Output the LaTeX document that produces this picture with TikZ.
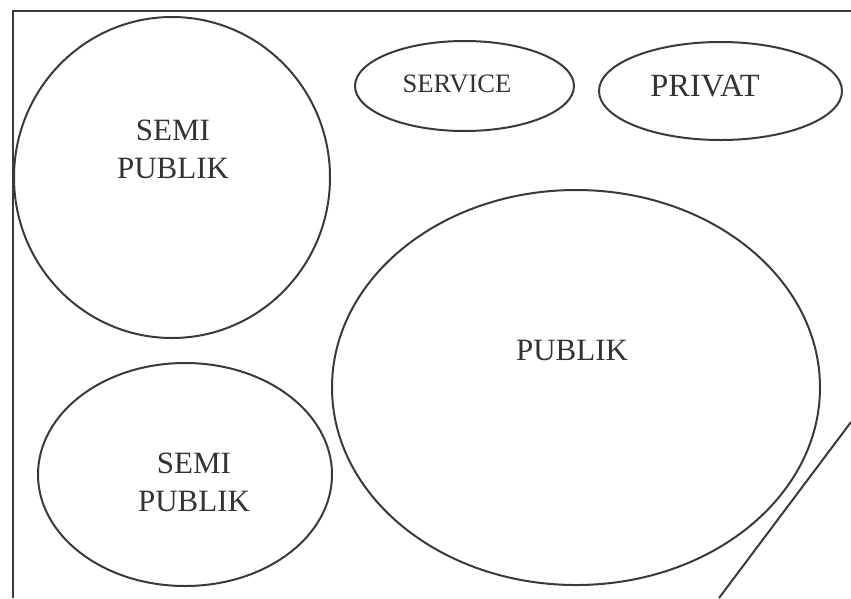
\documentclass[tikz,border=0pt]{standalone}
\usepackage{fontspec}
\setmainfont{Liberation Serif}
\usetikzlibrary{shapes.geometric}
\definecolor{ink}{HTML}{3A3A3A}
\definecolor{txt}{HTML}{333333}
\begin{document}
\begin{tikzpicture}[x=1pt,y=-1pt,
  zone/.style={ellipse,draw=ink,line width=2pt,inner sep=0pt},
  lbl/.style={text=txt,align=center,font=\fontsize{31}{38}\selectfont},
  frame/.style={draw=ink,line width=2pt}]
\useasboundingbox[fill=white] (0,0) rectangle (851,598);
% frame
\coordinate (tl) at (13,11);
\coordinate (tr) at (851,11);
\coordinate (bl) at (13,598);
\coordinate (d1) at (851,422);
\coordinate (d2) at (719,598);
\draw[frame] (tr) -- (tl) -- (bl);
\draw[frame] (d1) -- (d2);
% zones
\node[zone,minimum width=316pt,minimum height=321pt] (semi1) at (172,177.5) {};
\node[zone,minimum width=294pt,minimum height=223pt] (semi2) at (185,474.5) {};
\node[zone,minimum width=219pt,minimum height=90pt] (service) at (464.5,86) {};
\node[zone,minimum width=243pt,minimum height=98pt] (privat) at (720.5,91) {};
\node[zone,minimum width=488pt,minimum height=395pt] (publik) at (576,387.5) {};
% labels
\node[lbl] (tsemi1) at (173,149) {SEMI\\PUBLIK};
\node[lbl] (tsemi2) at (194,482) {SEMI\\PUBLIK};
\node[lbl,font=\fontsize{26.6}{30}\selectfont] (tservice) at (457,84) {SERVICE};
\node[lbl,font=\fontsize{32.4}{38}\selectfont] (tprivat) at (705,86) {PRIVAT};
\node[lbl] (tpublik) at (572,350) {PUBLIK};
\end{tikzpicture}
\end{document}
